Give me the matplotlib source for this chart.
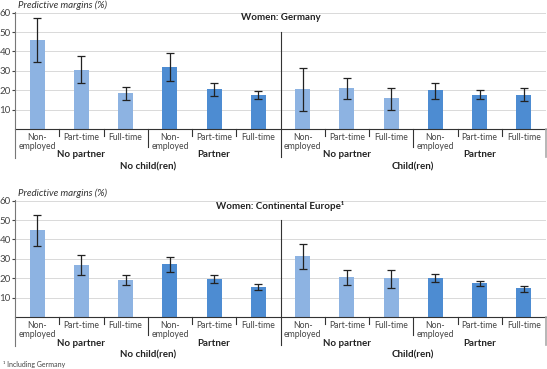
import matplotlib
matplotlib.use("Agg")
import matplotlib.pyplot as plt
from matplotlib.lines import Line2D
from matplotlib.transforms import blended_transform_factory

plt.rcParams["font.family"] = ["Lato", "DejaVu Sans"]

W, H = 547, 369

jobs = ["Non-\nemployed", "Part-time", "Full-time"] * 4
partner_labels = ["No partner", "Partner", "No partner", "Partner"]
child_labels = ["No child(ren)", "Child(ren)"]

# Germany: bar value, upper CI, lower CI
de_val = [45.9, 30.4, 18.7, 31.8, 20.4, 17.7, 20.6, 21.1, 15.8, 20.1, 17.7, 17.7]
de_hi = [57.2, 37.5, 21.5, 39.0, 23.7, 19.8, 31.3, 26.5, 21.3, 23.7, 19.9, 21.0]
de_lo = [34.4, 23.5, 15.1, 24.6, 16.8, 15.5, 9.3, 15.3, 9.8, 15.5, 15.5, 14.3]

# Continental Europe
ce_val = [45.1, 27.0, 18.9, 27.1, 19.4, 15.7, 31.2, 20.4, 19.9, 20.1, 17.5, 14.8]
ce_hi = [52.8, 31.9, 21.8, 31.1, 21.8, 16.8, 37.4, 24.2, 24.2, 22.2, 18.7, 16.0]
ce_lo = [36.5, 21.8, 16.7, 23.4, 17.4, 14.1, 24.9, 16.3, 15.1, 17.9, 16.0, 12.7]

light = "#8db3e2"
dark = "#4d8cd2"
bar_colors = [light] * 3 + [dark] * 3 + [light] * 3 + [dark] * 3

fig = plt.figure(figsize=(W / 100, H / 100), dpi=100)


def fx(px):
    return px / W


def fy(py):
    return 1 - py / H


def panel(top0, val, hi, lo, title):
    # top0: pixel y of the value-0 baseline
    scale = 1.94
    ymax = 61
    x0, x1 = 15, 546
    ax = fig.add_axes([fx(x0), fy(top0), fx(x1 - x0), ymax * scale / H])
    xs = list(range(12))
    ax.bar(xs, val, width=0.34, color=bar_colors, zorder=2)
    for x, v, h, l in zip(xs, val, hi, lo):
        ax.errorbar(x, v, yerr=[[v - l], [h - v]], fmt="none", ecolor="#222222",
                    elinewidth=0.9, capsize=3, capthick=0.9, zorder=3)
    ax.set_xlim(-0.5, 11.5)
    ax.set_ylim(0, ymax)
    ax.set_yticks([10, 20, 30, 40, 50, 60])
    ax.tick_params(axis="y", labelsize=7, length=2, pad=1, colors="#444444")
    ax.set_xticks([])
    ax.grid(axis="y", color="#d9d9d9", linewidth=0.7, zorder=0)
    for s in ("top", "right", "left"):
        ax.spines[s].set_visible(False)
    ax.spines["bottom"].set_color("#333333")
    ax.spines["bottom"].set_linewidth(0.8)

    tr = blended_transform_factory(ax.transData, fig.transFigure)
    # left axis line extending below baseline
    fig.add_artist(Line2D([fx(x0), fx(x0)], [fy(top0 - 117), fy(top0 + 29)],
                          color="#777777", linewidth=0.8))
    fig.add_artist(Line2D([fx(x1), fx(x1)], [fy(top0), fy(top0 + 28)],
                          color="#aaaaaa", linewidth=1.2))
    # separators
    for i in range(1, 12):
        xb = i - 0.5
        if i == 6:
            y_top, y_bot = top0 - 97, top0 + 28
        elif i in (3, 9):
            y_top, y_bot = top0, top0 + 18
        else:
            y_top, y_bot = top0, top0 + 7
        ax.add_line(Line2D([xb, xb], [fy(y_top), fy(y_bot)], transform=tr,
                           color="#333333", linewidth=0.8, clip_on=False))
    for x, lab in zip(xs, jobs):
        ax.text(x, fy(top0 + 4), lab, transform=tr, ha="center", va="top",
                fontsize=6.2, color="#444444", linespacing=1.05)
    for k, lab in enumerate(partner_labels):
        ax.text(1 + 3 * k, fy(top0 + 26), lab, transform=tr, ha="center",
                va="center", fontsize=7, fontweight="bold", color="#222222")
    for k, lab in enumerate(child_labels):
        ax.text(2.5 + 6 * k, fy(top0 + 38), lab, transform=tr, ha="center",
                va="center", fontsize=7, fontweight="bold", color="#222222")
    fig.text(fx(280.5), fy(top0 - 111), title, ha="center", va="center",
             fontsize=7, fontweight="bold", color="#222222")
    fig.text(fx(18), fy(top0 - 124), "Predictive margins (%)", ha="left",
             va="center", fontsize=7, style="italic", color="#333333")
    return ax


panel(129, de_val, de_hi, de_lo, "Women: Germany")
panel(317, ce_val, ce_hi, ce_lo, "Women: Continental Europe\u00b9")

fig.text(fx(3), fy(364), "\u00b9 Including Germany", ha="left", va="center",
         fontsize=5, color="#444444")

fig.savefig("out.png", dpi=100)
